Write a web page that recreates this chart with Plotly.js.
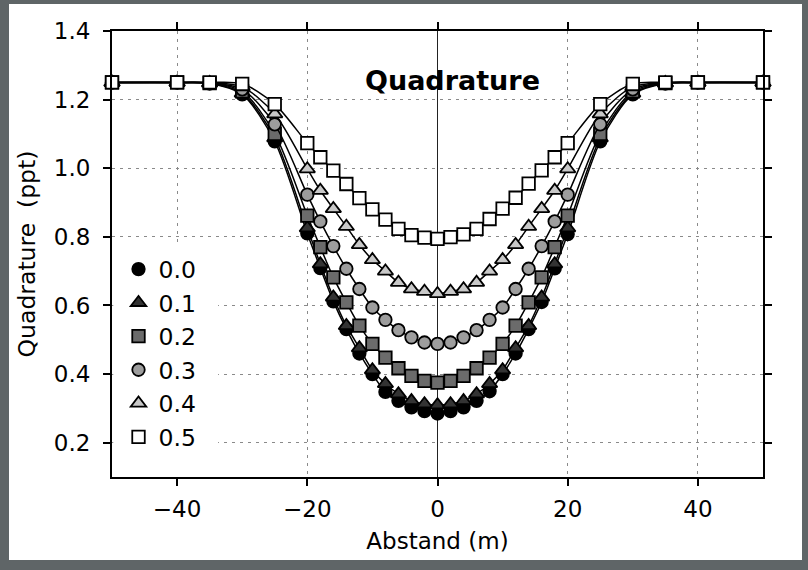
<!DOCTYPE html>
<html>
<head>
<meta charset="utf-8">
<script src="https://cdn.plot.ly/plotly-3.0.1.min.js"></script>
<style>
  html, body { margin: 0; padding: 0; width: 808px; height: 570px; background: #5f6567; overflow: hidden; }
  #chart { position: absolute; left: 9px; top: 4px; width: 793px; height: 556px; }
</style>
</head>
<body>
<div id="chart"></div>
<script>
// Distance (m)
const abstand = [-50, -40, -35, -30, -25, -20, -18, -16, -14, -12, -10, -8, -6, -4, -2, 0,
                 2, 4, 6, 8, 10, 12, 14, 16, 18, 20, 25, 30, 35, 40, 50];

// Quadrature (ppt) per series
const q00 = [1.25, 1.25, 1.247, 1.215, 1.078, 0.810, 0.709, 0.612, 0.531, 0.460, 0.400, 0.348, 0.322, 0.303, 0.292, 0.285,
             0.292, 0.303, 0.322, 0.350, 0.400, 0.460, 0.531, 0.610, 0.708, 0.808, 1.078, 1.215, 1.247, 1.25, 1.25];
const q01 = [1.25, 1.25, 1.248, 1.219, 1.088, 0.826, 0.721, 0.624, 0.541, 0.476, 0.412, 0.372, 0.342, 0.322, 0.313, 0.310,
             0.313, 0.322, 0.342, 0.372, 0.412, 0.476, 0.541, 0.624, 0.721, 0.826, 1.088, 1.219, 1.248, 1.25, 1.25];
const q02 = [1.25, 1.25, 1.248, 1.224, 1.100, 0.862, 0.770, 0.682, 0.609, 0.541, 0.488, 0.448, 0.417, 0.395, 0.380, 0.375,
             0.380, 0.395, 0.417, 0.448, 0.488, 0.541, 0.609, 0.682, 0.770, 0.862, 1.100, 1.224, 1.248, 1.25, 1.25];
const q03 = [1.25, 1.25, 1.249, 1.230, 1.128, 0.923, 0.845, 0.773, 0.707, 0.648, 0.594, 0.558, 0.528, 0.507, 0.492, 0.488,
             0.492, 0.507, 0.528, 0.558, 0.594, 0.648, 0.707, 0.773, 0.845, 0.923, 1.128, 1.230, 1.249, 1.25, 1.25];
const q04 = [1.25, 1.25, 1.249, 1.237, 1.158, 0.998, 0.935, 0.882, 0.830, 0.777, 0.733, 0.700, 0.667, 0.648, 0.641, 0.634,
             0.641, 0.648, 0.667, 0.700, 0.733, 0.777, 0.830, 0.882, 0.935, 0.998, 1.158, 1.237, 1.249, 1.25, 1.25];
const q05 = [1.25, 1.25, 1.25, 1.246, 1.187, 1.073, 1.032, 0.993, 0.954, 0.913, 0.880, 0.850, 0.823, 0.805, 0.798, 0.794,
             0.799, 0.807, 0.823, 0.852, 0.882, 0.914, 0.955, 0.994, 1.032, 1.073, 1.187, 1.246, 1.25, 1.25, 1.25];

const seriesNames = ['0.0', '0.1', '0.2', '0.3', '0.4', '0.5'];
const seriesValues = [q00, q01, q02, q03, q04, q05];
const seriesSymbols = ['circle', 'triangle-up', 'square', 'circle', 'triangle-up', 'square'];
const seriesFills = ['#000000', '#333333', '#6b6b6b', '#9d9d9d', '#c8c8c8', '#ffffff'];
const seriesSizes = [12.5, 13.5, 12.5, 12.5, 13.5, 12.5];

const traces = [];
seriesNames.forEach((name, i) => {
  traces.push({
    x: abstand, y: seriesValues[i], type: 'scatter', mode: 'lines',
    line: { color: '#000', width: 1.5, shape: 'spline', smoothing: 0.8 },
    showlegend: false, hoverinfo: 'skip', cliponaxis: false
  });
  traces.push({
    x: abstand, y: seriesValues[i], type: 'scatter', mode: 'markers', name: name,
    marker: { symbol: seriesSymbols[i], size: seriesSizes[i], color: seriesFills[i],
              line: { color: '#000', width: 1.8 } },
    cliponaxis: false
  });
});

const tickFont = { family: 'DejaVu Sans', size: 23, color: '#000' };

const layout = {
  width: 793, height: 556,
  margin: { l: 103, r: 39, t: 27, b: 83 },
  paper_bgcolor: '#ffffff', plot_bgcolor: '#ffffff',
  showlegend: true,
  title: {
    text: 'Quadrature',
    font: { family: 'DejaVu Sans', size: 27, color: '#000', weight: 'bold' },
    xref: 'paper', yref: 'paper', x: 0.523, y: 0.888, xanchor: 'center', yanchor: 'middle'
  },
  xaxis: {
    range: [-50, 50], tickvals: [-40, -20, 0, 20, 40], ticktext: ['\u221240', '\u221220', '0', '20', '40'],
    showline: true, linecolor: '#000', linewidth: 2, mirror: 'ticks',
    ticks: 'outside', ticklen: 7, tickwidth: 2, tickcolor: '#000',
    showgrid: true, gridcolor: '#8a8a8a', gridwidth: 1, griddash: '3px,5px',
    zeroline: true, zerolinecolor: '#222', zerolinewidth: 1.5,
    tickfont: tickFont, ticklabelstandoff: 3,
    title: { text: 'Abstand (m)', font: { family: 'DejaVu Sans', size: 23, color: '#000' }, standoff: 12 }
  },
  yaxis: {
    range: [0.1, 1.4], tickvals: [0.2, 0.4, 0.6, 0.8, 1.0, 1.2, 1.4],
    ticktext: ['0.2', '0.4', '0.6', '0.8', '1.0', '1.2', '1.4'],
    showline: true, linecolor: '#000', linewidth: 2, mirror: 'ticks',
    ticks: 'outside', ticklen: 7, tickwidth: 2, tickcolor: '#000',
    showgrid: true, gridcolor: '#8a8a8a', gridwidth: 1, griddash: '3px,5px',
    zeroline: false,
    tickfont: tickFont, ticklabelstandoff: 8,
    title: { text: 'Quadrature  (ppt)', font: { family: 'DejaVu Sans', size: 23.5, color: '#000' }, standoff: 12 }
  },
  legend: {
    x: 0.01, y: 0.515, xanchor: 'left', yanchor: 'top',
    bgcolor: '#ffffff', borderwidth: 0,
    font: { family: 'DejaVu Sans', size: 23.5, color: '#000' },
    tracegroupgap: 0
  },
  shapes: [{
    type: 'rect', xref: 'paper', yref: 'paper', x0: 0.002, x1: 0.163, y0: 0.002, y1: 0.51,
    fillcolor: '#ffffff', line: { width: 0 }, layer: 'above'
  }]
};

Plotly.newPlot('chart', traces, layout, { displayModeBar: false, staticPlot: true });
</script>
</body>
</html>
